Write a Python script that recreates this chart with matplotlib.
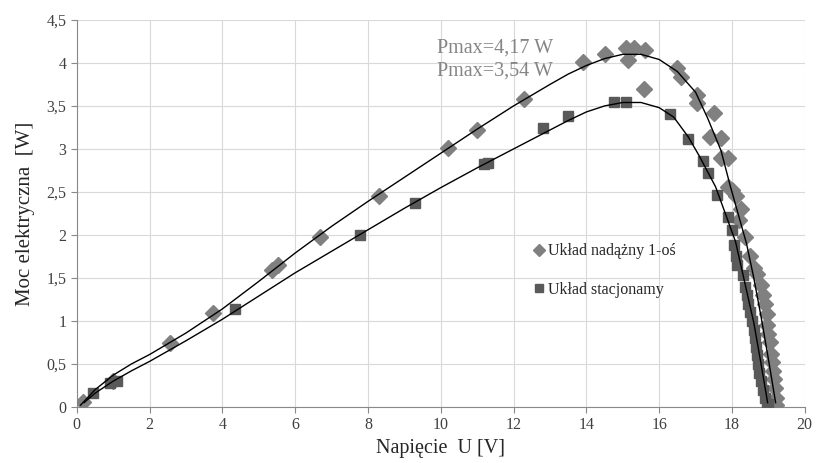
import matplotlib.pyplot as plt
from matplotlib.ticker import FuncFormatter

# measured points - tracking system (diamonds)
track_u = [0.17, 1.0, 2.56, 3.74, 5.36, 5.53, 6.68, 8.3, 10.2, 11.0, 12.3, 13.9, 14.5,
           15.1, 15.3, 15.15, 15.6, 15.57, 16.5, 16.6, 17.05, 17.05, 17.5, 17.4, 17.7,
           17.7, 17.9, 17.9, 18.0, 18.1, 18.25, 18.2, 18.35, 18.5, 18.6, 18.7, 18.8,
           18.85, 18.9, 18.95, 18.97, 19.0, 19.05, 19.08, 19.1, 19.12, 19.15, 19.17,
           19.2, 19.2]
track_p = [0.06, 0.3, 0.74, 1.09, 1.59, 1.65, 1.98, 2.45, 3.01, 3.22, 3.58, 4.01, 4.10,
           4.17, 4.17, 4.03, 4.15, 3.70, 3.94, 3.84, 3.63, 3.53, 3.42, 3.14, 3.13,
           2.9, 2.9, 2.56, 2.52, 2.45, 2.3, 2.17, 1.98, 1.75, 1.62, 1.55, 1.42,
           1.3, 1.2, 1.08, 0.95, 0.85, 0.75, 0.62, 0.52, 0.42, 0.32, 0.22,
           0.1, 0.02]

# measured points - stationary system (squares)
stat_u = [0.45, 0.9, 1.1, 4.35, 7.79, 9.3, 11.2, 11.3, 12.8, 13.5, 14.75, 15.1, 16.3,
          16.8, 17.2, 17.35, 17.6, 17.9, 18.0, 18.05, 18.1, 18.15, 18.3, 18.35, 18.4,
          18.45, 18.5, 18.55, 18.6, 18.62, 18.65, 18.7, 18.72, 18.75, 18.8, 18.85,
          18.9, 18.95, 19.0]
stat_p = [0.16, 0.28, 0.3, 1.14, 2.0, 2.37, 2.83, 2.84, 3.24, 3.38, 3.55, 3.55, 3.41,
          3.12, 2.86, 2.72, 2.46, 2.21, 2.06, 1.88, 1.75, 1.65, 1.53, 1.4, 1.3,
          1.2, 1.1, 1.0, 0.9, 0.8, 0.7, 0.6, 0.5, 0.4, 0.3, 0.2,
          0.1, 0.04, 0.04]

# trend lines
trend_track_u = [0.1, 0.5, 1, 1.5, 2, 3, 4, 5, 6, 7, 8, 9, 10, 11, 12, 13, 13.5, 14, 14.5,
                 15, 15.5, 16, 16.5, 17, 17.33, 17.7, 17.96, 18.2, 18.4, 18.6, 18.8,
                 19.0, 19.2]
trend_track_p = [0.02, 0.2, 0.37, 0.5, 0.61, 0.86, 1.14, 1.46, 1.79, 2.1, 2.39, 2.67, 2.95,
                 3.23, 3.5, 3.75, 3.87, 3.97, 4.05, 4.1, 4.1, 4.04, 3.9, 3.66, 3.36,
                 2.98, 2.56, 2.2, 1.9, 1.5, 1.05, 0.56, 0.05]
trend_stat_u = [0.2, 0.5, 1, 1.5, 2, 3, 4, 5, 6, 7, 8, 9, 10, 11, 12, 13, 13.5, 14, 14.5,
                15, 15.5, 16, 16.4, 16.8, 17.1, 17.55, 17.8, 18.1, 18.35, 18.6, 18.8,
                18.98]
trend_stat_p = [0.05, 0.16, 0.3, 0.42, 0.53, 0.77, 1.02, 1.29, 1.56, 1.81, 2.06, 2.31, 2.55,
                2.78, 3.0, 3.22, 3.33, 3.43, 3.5, 3.54, 3.54, 3.48, 3.37, 3.14, 2.92,
                2.56, 2.27, 1.92, 1.45, 0.98, 0.5, 0.05]

plt.rcParams['font.family'] = 'Liberation Serif'

fig = plt.figure(figsize=(8.17, 4.63), dpi=100)
ax = fig.add_axes([0.094, 0.121, 0.891, 0.836])

ax.plot(track_u, track_p, 'D', color='#808080', ms=8, mec='#808080', zorder=3, label='Układ nadążny 1-oś')
ax.plot(stat_u, stat_p, 's', color='#5a5a5a', ms=7.5, mec='#5a5a5a', zorder=3, label='Układ stacjonamy')
ax.plot(trend_track_u, trend_track_p, color='black', lw=1.0, zorder=4)
ax.plot(trend_stat_u, trend_stat_p, color='black', lw=1.0, zorder=4)

ax.set_xlim(0, 20)
ax.set_ylim(0, 4.5)
ax.set_xticks(range(0, 21, 2))
ax.set_yticks([i * 0.5 for i in range(10)])
ax.yaxis.set_major_formatter(FuncFormatter(lambda v, p: ('%g' % v).replace('.', ',')))
ax.grid(True, color='#d9d9d9', lw=0.8)
ax.set_axisbelow(True)
for s in ['top', 'right']:
    ax.spines[s].set_visible(False)
for s in ['left', 'bottom']:
    ax.spines[s].set_color('#898989')
ax.tick_params(colors='#898989', labelcolor='#404040', labelsize=11.5, length=4)

ax.set_xlabel('Napięcie  U [V]', fontsize=14.5, color='#262626', labelpad=4)
ax.set_ylabel('Moc elektryczna  [W]', fontsize=15, color='#262626', labelpad=8)

ax.text(9.9, 4.12, 'Pmax=4,17 W', fontsize=14.5, color='#858585')
ax.text(9.9, 3.85, 'Pmax=3,54 W', fontsize=14.5, color='#858585')

ax.legend(loc='upper left', bbox_to_anchor=(0.604, 0.46), frameon=False, fontsize=11.5,
          handletextpad=0.1, handlelength=1.0, labelspacing=1.4, markerscale=0.75,
          labelcolor='#262626')

fig.savefig('out.png', dpi=100)
